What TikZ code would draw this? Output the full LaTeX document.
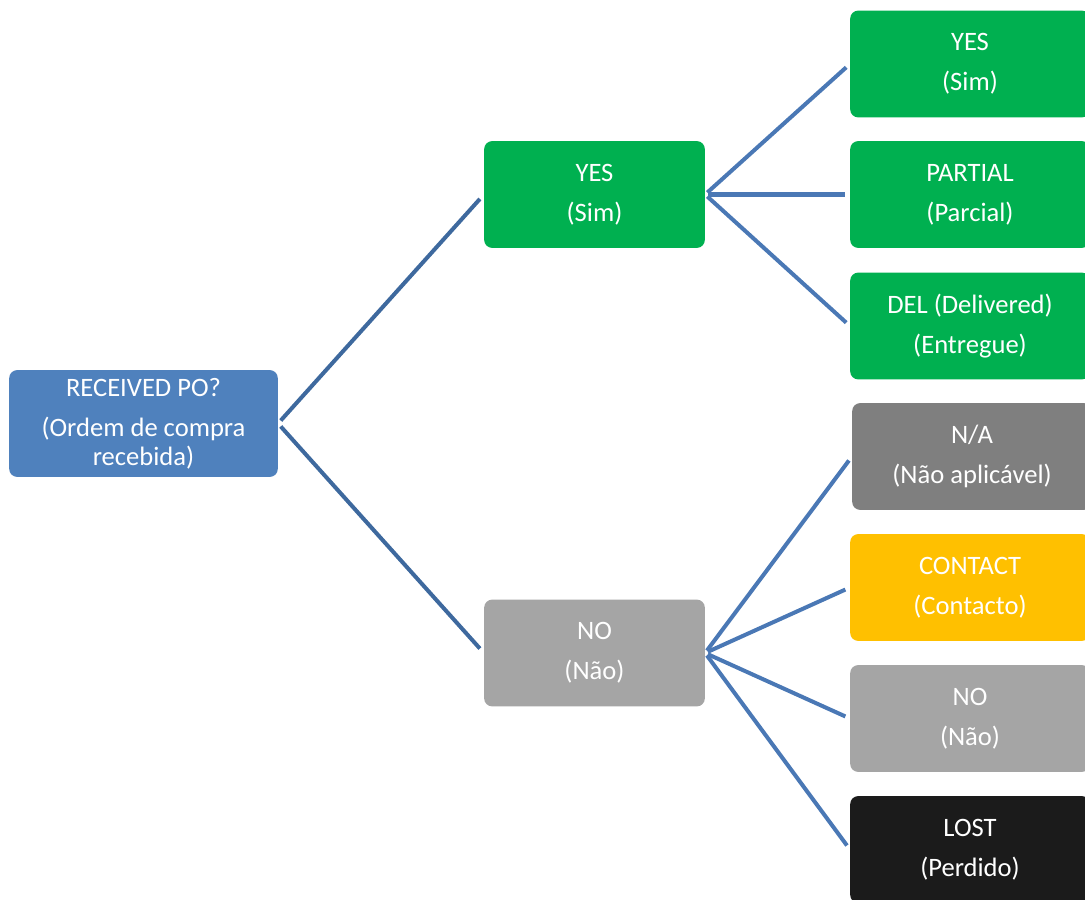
\documentclass[tikz,border=0pt]{standalone}
\usepackage{fontspec}
\setmainfont{Carlito}
\usetikzlibrary{positioning}

\definecolor{rootblue}{HTML}{4F81BD}
\definecolor{yesgreen}{HTML}{00B050}
\definecolor{nogrey}{HTML}{A5A5A5}
\definecolor{nagrey}{HTML}{7F7F7F}
\definecolor{contactyellow}{HTML}{FFC000}
\definecolor{lostblack}{HTML}{1B1B1B}
\definecolor{linkdark}{HTML}{3E699E}
\definecolor{linkblue}{HTML}{4A78B5}

\begin{document}
\begin{tikzpicture}[x=0.025cm, y=-0.025cm,
  box/.style={rectangle, rounded corners=8*0.71pt, text=white, align=center,
    inner sep=0pt, minimum height=107*0.71pt,
    font=\fontsize{18.9pt}{28.4pt}\selectfont},
  midbox/.style={box, minimum width=221*0.71pt},
  leafbox/.style={box, minimum width=240*0.71pt},
  link/.style={line width=2.85pt, linkblue, shorten <=3*0.71pt, shorten >=5*0.71pt},
  rootlink/.style={link, linkdark, shorten <=4*0.71pt, shorten >=6*0.71pt}]
  \useasboundingbox (0,0) rectangle (1085,900);

  % question
  \node[box, fill=rootblue, minimum width=269*0.71pt] (root) at (143.5,423.5)
    {RECEIVED PO?\\(Ordem de compra\\[-8pt]recebida)};

  % first answer
  \node[midbox, fill=yesgreen] (yes) at (594.5,194.5) {YES\\(Sim)};
  \node[midbox, fill=nogrey] (no) at (594.5,653) {NO\\(Não)};

  % status when yes
  \node[leafbox, fill=yesgreen] (yesyes) at (970,64) {YES\\(Sim)};
  \node[leafbox, fill=yesgreen] (partial) at (970,194.5) {PARTIAL\\(Parcial)};
  \node[leafbox, fill=yesgreen] (del) at (970,326) {DEL (Delivered)\\(Entregue)};

  % status when no
  \node[leafbox, fill=nagrey] (na) at (972,456.5) {N/A\\(Não aplicável)};
  \node[leafbox, fill=contactyellow] (contact) at (970,587.5) {CONTACT\\(Contacto)};
  \node[leafbox, fill=nogrey] (nono) at (970,718.5) {NO\\(Não)};
  \node[leafbox, fill=lostblack] (lost) at (970,849.5) {LOST\\(Perdido)};

  \draw[rootlink] (root.east) -- (yes.west);
  \draw[rootlink] (root.east) -- (no.west);

  \foreach \leaf in {yesyes,partial,del}
    \draw[link] (yes.east) -- (\leaf.west);
  \foreach \leaf in {na,contact,nono,lost}
    \draw[link] (no.east) -- (\leaf.west);
\end{tikzpicture}
\end{document}
